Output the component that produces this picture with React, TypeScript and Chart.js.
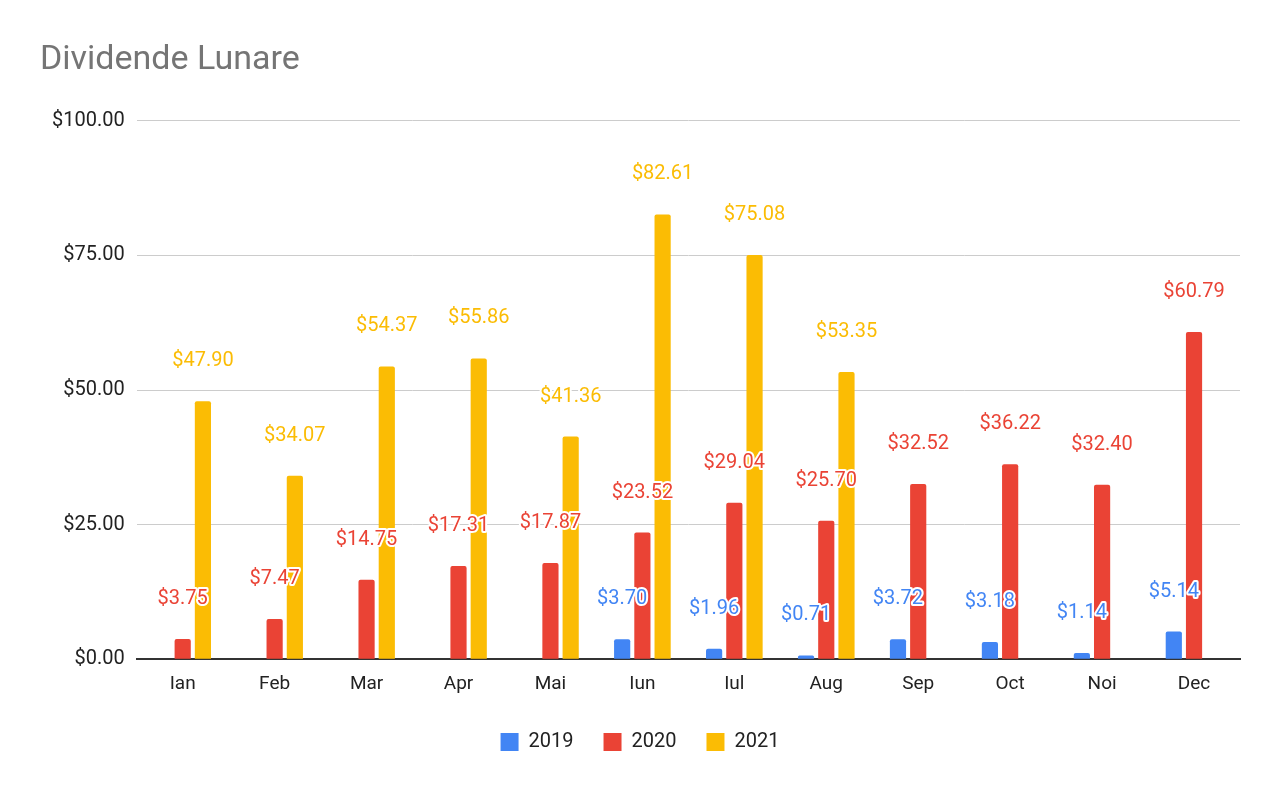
import React, { useEffect, useRef } from "react";
import { Chart, registerables } from "chart.js";
Chart.register(...registerables);

const categories = ["Ian","Feb","Mar","Apr","Mai","Iun","Iul","Aug","Sep","Oct","Noi","Dec"];
const s2019 = [null,null,null,null,null,3.70,1.96,0.71,3.72,3.18,1.14,5.14];
const s2020 = [3.75,7.47,14.75,17.31,17.87,23.52,29.04,25.70,32.52,36.22,32.40,60.79];
const s2021 = [47.90,34.07,54.37,55.86,41.36,82.61,75.08,53.35,null,null,null,null];
const yTicks = [0,25,50,75,100];

const fmt = (v: number) => "$" + v.toFixed(2);

const labelPlugin = {
  id: "barLabels",
  afterDatasetsDraw(chart: any) {
    const ctx = chart.ctx;
    ctx.save();
    ctx.font = "20px Roboto";
    ctx.textAlign = "center";
    ctx.textBaseline = "middle";
    chart.data.datasets.forEach((ds: any, di: number) => {
      const meta = chart.getDatasetMeta(di);
      meta.data.forEach((el: any, i: number) => {
        const v = ds.data[i];
        if (v == null) return;
        const y = el.y - 40;
        ctx.lineWidth = 4;
        ctx.strokeStyle = "#fff";
        ctx.lineJoin = "round";
        ctx.strokeText(fmt(v), el.x, y);
        ctx.fillStyle = ds.backgroundColor;
        ctx.fillText(fmt(v), el.x, y);
      });
    });
    ctx.restore();
  },
};

export default function App() {
  const ref = useRef<HTMLCanvasElement>(null);
  useEffect(() => {
    const chart = new Chart(ref.current!, {
      type: "bar",
      data: {
        labels: categories,
        datasets: [
          { label: "2019", data: s2019, backgroundColor: "#4285f4" },
          { label: "2020", data: s2020, backgroundColor: "#ea4335" },
          { label: "2021", data: s2021, backgroundColor: "#fbbc04" },
        ],
      } as any,
      plugins: [labelPlugin],
      options: {
        animation: false,
        responsive: false,
        layout: { padding: { left: 40, right: 40, top: 40, bottom: 30 } },
        datasets: { bar: { categoryPercentage: 0.66, barPercentage: 0.8, borderRadius: { topLeft: 2, topRight: 2 } as any } },
        plugins: {
          title: {
            display: true, text: "Dividende Lunare", align: "start",
            color: "#757575", font: { family: "Roboto", size: 34, weight: "normal" },
            padding: { top: 0, bottom: 40 },
          },
          legend: {
            position: "bottom",
            labels: { boxWidth: 18, boxHeight: 18, padding: 30, color: "#222", font: { family: "Roboto", size: 20 } },
          },
          tooltip: { enabled: false },
        },
        scales: {
          x: {
            grid: { display: false },
            border: { color: "#333", width: 2 },
            ticks: { color: "#222", font: { family: "Roboto", size: 19 }, padding: 6 },
          },
          y: {
            min: 0, max: 100,
            afterBuildTicks: (s: any) => { s.ticks = yTicks.map((v) => ({ value: v })); },
            grid: { color: "#ccc", drawTicks: false },
            border: { display: false },
            ticks: { color: "#222", font: { family: "Roboto", size: 20 }, padding: 12, callback: (v: any) => fmt(Number(v)) },
          },
        },
      },
    });
    return () => chart.destroy();
  }, []);
  return (
    <div style={{ position: "fixed", left: 0, top: 0, width: 1280, height: 792, background: "#fff" }}>
      <canvas ref={ref} width={1280} height={792} />
    </div>
  );
}
